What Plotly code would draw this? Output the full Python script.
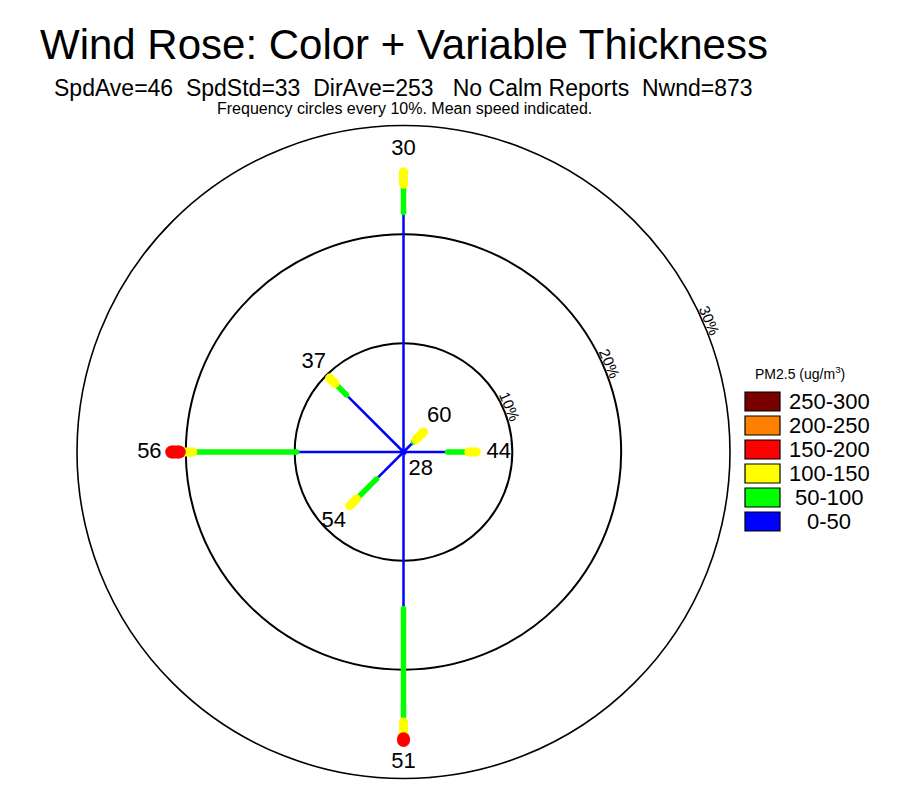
import math
import plotly.graph_objects as go

# ---------------- data ----------------
directions = ["N", "NE", "E", "SE", "S", "SW", "W", "NW"]
dir_angles = [0, 45, 90, 135, 180, 225, 270, 315]
mean_speed = [30, 60, 44, 28, 51, 54, 56, 37]

classes = ["0-50", "50-100", "100-150", "150-200", "200-250", "250-300"]
class_colors = ["#0000ff", "#00ff00", "#ffff00", "#ff0000", "#ff8000", "#7a0000"]
class_widths = [2.5, 5.5, 9, 13, 16, 19]

# frequency (%) of each PM2.5 class per direction
freq_0_50 = [22.0, 1.3, 4.05, 0.2, 14.4, 3.5, 9.8, 7.4]
freq_50_100 = [2.6, 0.3, 1.95, 0.0, 10.4, 2.6, 9.55, 1.5]
freq_100_150 = [1.15, 1.0, 0.7, 0.0, 1.55, 0.9, 1.25, 0.7]
freq_150_200 = [0.0, 0.0, 0.0, 0.0, 0.15, 0.0, 0.7, 0.0]
freq_200_250 = [0.0, 0.0, 0.0, 0.0, 0.0, 0.0, 0.0, 0.0]
freq_250_300 = [0.0, 0.0, 0.0, 0.0, 0.0, 0.0, 0.0, 0.0]

ring_vals = [10, 20, 30]
ring_text = ["10%", "20%", "30%"]
r_max = 30

title = "Wind Rose: Color + Variable Thickness"
subtitle = "SpdAve=46  SpdStd=33  DirAve=253   No Calm Reports  Nwnd=873"
subtitle2 = "Frequency circles every 10%. Mean speed indicated."
legend_title = "PM2.5 (ug/m<sup>3</sup>)"

FONT = "Liberation Sans, Arial, sans-serif"
freqs = [freq_0_50, freq_50_100, freq_100_150, freq_150_200, freq_200_250, freq_250_300]

fig = go.Figure()

cum = [0.0] * len(directions)
for ci, cls in enumerate(classes):
    rr, tt = [], []
    for di in range(len(directions)):
        f = freqs[ci][di]
        if f > 0:
            rr += [cum[di], cum[di] + f, None]
            tt += [dir_angles[di], dir_angles[di], None]
            cum[di] += f
    if rr:
        fig.add_trace(go.Scatterpolar(
            r=rr, theta=tt, mode="lines+markers",
            line=dict(color=class_colors[ci], width=class_widths[ci]),
            marker=dict(color=class_colors[ci], size=class_widths[ci], line=dict(width=0)),
            connectgaps=False, showlegend=False, hoverinfo="skip"))

label_offset = 2.05
fig.add_trace(go.Scatterpolar(
    r=[c + label_offset for c in cum], theta=dir_angles, mode="text",
    text=[str(s) for s in mean_speed],
    textfont=dict(family=FONT, size=22, color="black"),
    showlegend=False, hoverinfo="skip"))

# page body has an 8px default margin -> lay out in window pixels minus that offset
OX, OY = 8, 8
W, H = 922 - OX, 793 - OY


def px(x):
    return (x - OX) / W


def py(y):
    return 1 - (y - OY) / H


cx0, cx1 = 77, 730
cy0, cy1 = 125.5, 778.5

fig.update_layout(
    width=W, height=H,
    margin=dict(l=0, r=0, t=0, b=0),
    paper_bgcolor="white", plot_bgcolor="white",
    showlegend=False,
    polar=dict(
        domain=dict(x=[px(cx0), px(cx1)], y=[py(cy1), py(cy0)]),
        bgcolor="white",
        radialaxis=dict(range=[0, r_max], tickvals=ring_vals, ticktext=ring_text,
                        showline=False, ticks="", showgrid=True, showticklabels=False,
                        gridcolor="black", gridwidth=1.6),
        angularaxis=dict(direction="clockwise", rotation=90, showgrid=False,
                         showticklabels=False, ticks="", showline=True,
                         linecolor="black", linewidth=1.6),
    ),
)

ann = []
ann.append(dict(text=title, x=px(403.5), y=py(45), xref="paper", yref="paper",
                showarrow=False, xanchor="center", yanchor="middle",
                font=dict(family=FONT, size=42, color="black")))
ann.append(dict(text=subtitle, x=px(403.5), y=py(88), xref="paper", yref="paper",
                showarrow=False, xanchor="center", yanchor="middle",
                font=dict(family=FONT, size=23, color="black")))
ann.append(dict(text=subtitle2, x=px(404), y=py(109), xref="paper", yref="paper",
                showarrow=False, xanchor="center", yanchor="middle",
                font=dict(family=FONT, size=16, color="black")))
ann.append(dict(text=legend_title, x=px(800), y=py(373), xref="paper", yref="paper",
                showarrow=False, xanchor="center", yanchor="middle",
                font=dict(family=FONT, size=14, color="black")))

# ring labels, written along each frequency circle (tangent orientation)
ccx, ccy = (cx0 + cx1) / 2, (cy0 + cy1) / 2
rad_px = (cx1 - cx0) / 2
label_deg = 23.3   # screen angle, counter-clockwise from east
label_ang = math.radians(label_deg)
for v, t in zip(ring_vals, ring_text):
    rp = v / r_max * rad_px + 7
    ann.append(dict(text=t, x=px(ccx + rp * math.cos(label_ang)),
                    y=py(ccy - rp * math.sin(label_ang)),
                    xref="paper", yref="paper", showarrow=False,
                    xanchor="center", yanchor="middle", textangle=90 - label_deg,
                    font=dict(family=FONT, size=15, color="black")))

shapes = []
row_top0, row_step, box_h = 392, 24, 19
box_x0, box_x1 = 745, 780
for k, ci in enumerate(reversed(range(len(classes)))):
    top = row_top0 + k * row_step
    shapes.append(dict(type="rect", xref="paper", yref="paper",
                       x0=px(box_x0), x1=px(box_x1),
                       y0=py(top + box_h), y1=py(top),
                       fillcolor=class_colors[ci], line=dict(color="black", width=1.2)))
    ann.append(dict(text=classes[ci], x=px(829), y=py(top + box_h / 2),
                    xref="paper", yref="paper", showarrow=False, borderpad=0,
                    xanchor="center", yanchor="middle",
                    font=dict(family=FONT, size=22, color="black")))

fig.update_layout(annotations=ann, shapes=shapes)
fig.write_html("out.html")
